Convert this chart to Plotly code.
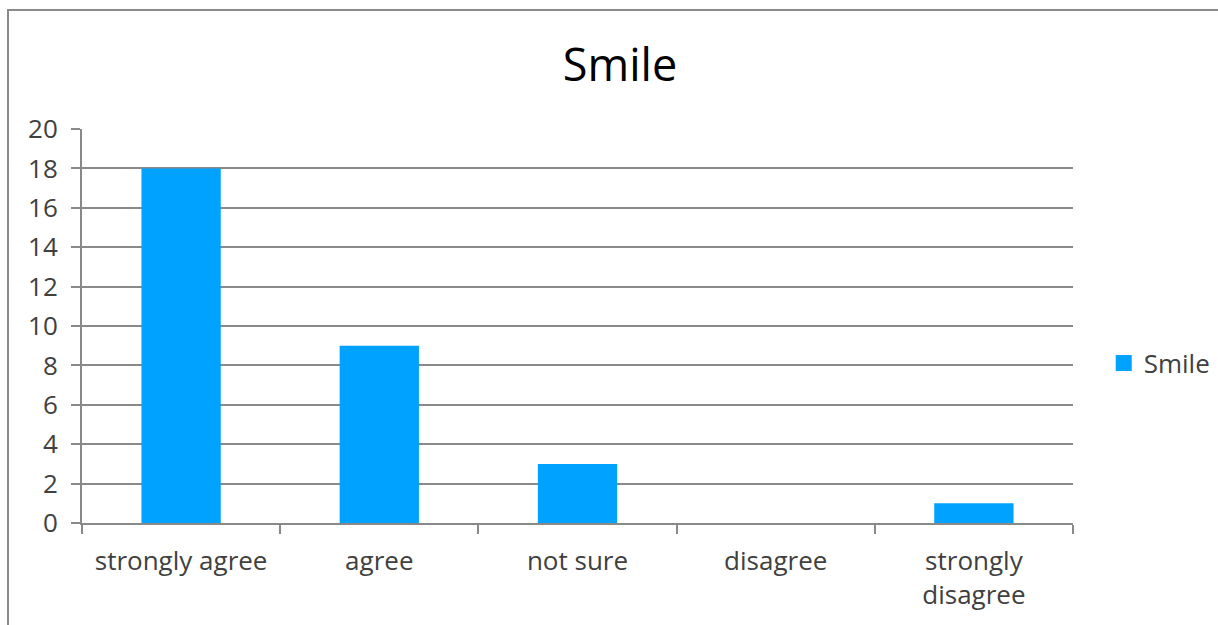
import plotly.graph_objects as go

categories = ["strongly agree", "agree", "not sure", "disagree", "strongly<br>disagree"]
values = [18, 9, 3, 0, 1]
series_name = "Smile"
y_ticks = [0, 2, 4, 6, 8, 10, 12, 14, 16, 18, 20]

grid = "#898989"
bar_color = "#00A2FF"
font_fam = "Open Sans, Noto Sans, sans-serif"
fs = 26

fig = go.Figure()
fig.add_trace(go.Bar(x=categories, y=values, name=series_name, showlegend=False,
                     marker=dict(color=bar_color, line=dict(width=0))))
# legend entry with a larger square swatch
fig.add_trace(go.Scatter(x=[categories[0]], y=[None], name=series_name, mode="markers",
                         marker=dict(symbol="square", size=16, color=bar_color),
                         showlegend=True, hoverinfo="skip"))

fig.update_layout(
    width=1218, height=625,
    margin=dict(l=82, r=145, t=129, b=102, autoexpand=False),
    paper_bgcolor="white", plot_bgcolor="white",
    bargap=0.6,
    font=dict(family=font_fam, color="#404040", size=fs),
    title=dict(text="Smile", x=620 / 1218, xanchor="center", xref="container",
               y=1 - 65 / 625, yref="container", yanchor="middle",
               font=dict(size=45, color="#000000", family=font_fam)),
    showlegend=True,
    legend=dict(x=1.031, y=(523 - 363) / 394, xanchor="left", yanchor="middle",
                font=dict(size=fs, color="#404040"), itemwidth=30),
    xaxis=dict(type="category", showline=True, linecolor=grid, linewidth=2,
               ticks="outside", tickson="boundaries", ticklen=9, tickcolor=grid, tickwidth=2,
               showgrid=False, tickfont=dict(size=fs, color="#404040"),
               ticklabelstandoff=14),
    yaxis=dict(range=[0, 20], tickvals=y_ticks, showline=True, linecolor=grid, linewidth=2,
               ticks="outside", ticklen=9, tickcolor=grid, tickwidth=2,
               showgrid=True, gridcolor=grid, gridwidth=2, zeroline=False,
               tickfont=dict(size=fs, color="#404040"), ticklabelstandoff=8),
)

# outer chart border (left and top edges visible)
fig.add_shape(type="rect", xref="paper", yref="paper",
              x0=(8 - 82) / 991, x1=1.2, y0=-0.4, y1=(523 - 10) / 394,
              line=dict(color="#8a8a8a", width=2), fillcolor="rgba(0,0,0,0)", layer="below")

fig.write_html("out.html")
